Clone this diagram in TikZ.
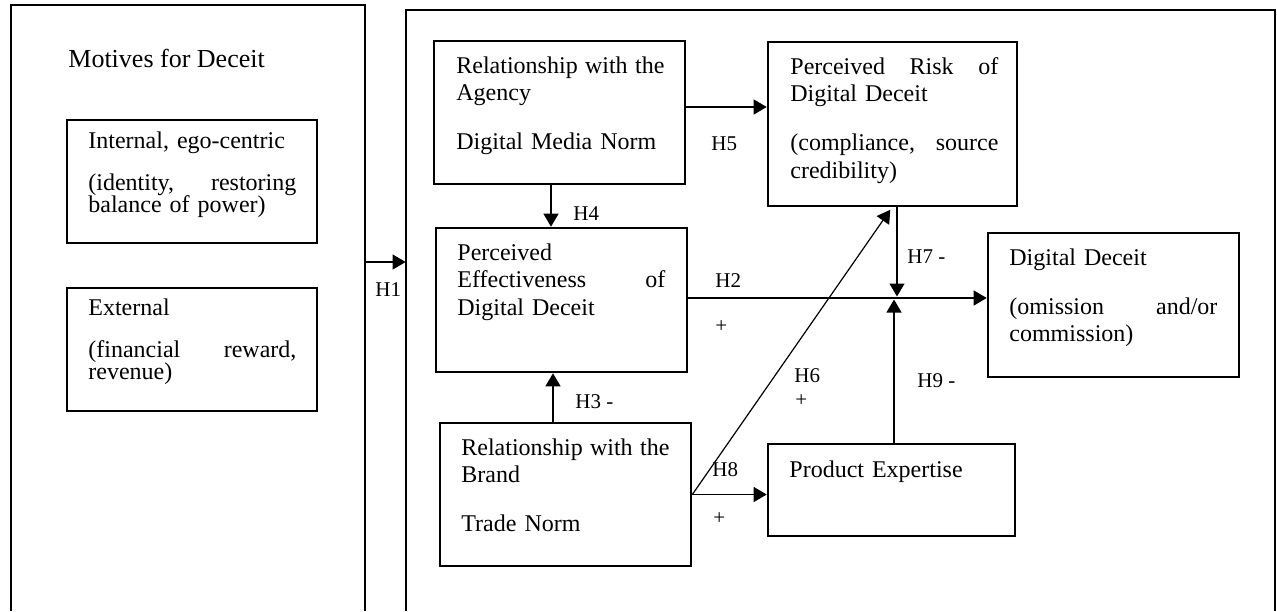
\documentclass[tikz,border=0pt]{standalone}
\usepackage{fontspec}
\setmainfont{Liberation Serif}
\usetikzlibrary{arrows.meta,fit}
\newlength\bw \setlength\bw{104pt}
\newcommand\jline[1]{\makebox[\bw][l]{#1}}
\begin{document}
\begin{tikzpicture}[x=0.5pt,y=-0.5pt,
  box/.style={draw, line width=1.3pt, inner sep=0pt},
  panel/.style={inner sep=0pt},
  txt/.style={anchor=base west, inner sep=0pt, text width=104pt, align=left, font=\fontsize{12}{13.75}\selectfont},
  txtL/.style={anchor=base west, inner sep=0pt, text width=104pt, align=left, font=\fontsize{12}{11.25}\selectfont},
  lbl/.style={anchor=base west, inner sep=0pt, font=\fontsize{10.5}{12}\selectfont},
  arr/.style={line width=0.6pt, -{Triangle[length=6.5pt,width=7.5pt]}},
  edgeline/.style={line width=1pt, line join=miter}
]
\useasboundingbox (0,0) rectangle (1277,611);

% panels
\node[panel, fit={(11,5)(365,611)}] (left) {};
\node[panel, fit={(406,10)(1275,611)}] (right) {};
\draw[edgeline] (left.south west) -- (left.north west) -- (left.north east) -- (left.south east);
\draw[edgeline] (right.south west) -- (right.north west) -- (right.north east) -- (right.south east);

\node[anchor=base west, inner sep=0pt, font=\fontsize{13}{15}\selectfont] (motT) at (68,67) {Motives for Deceit};

% left boxes
\node[box, fit={(67,120)(317,243)}] (internal) {};
\node[txtL] (internalT) at (88,148) {Internal, ego-centric\\[9.75pt]\jline{(identity,\hfill restoring}\\balance of power)};
\node[box, fit={(67,288)(317,411)}] (external) {};
\node[txtL] (externalT) at (88,315) {External\\[9.75pt]\jline{(financial\hfill reward,}\\revenue)};

% right boxes
\node[box, fit={(434,41)(685,184)}] (agency) {};
\node[txt] (agencyT) at (456,73) {\jline{Relationship\hfill with\hfill the}\\Agency\\[10.75pt]Digital Media Norm};

\node[box, fit={(768,42)(1017,206)}] (pr) {};
\node[txt] (prT) at (790,74) {\jline{Perceived\hfill Risk\hfill of}\\Digital Deceit\\[10.75pt]\jline{(compliance,\hfill source}\\credibility)};

\node[box, fit={(436,228)(687,372)}] (eff) {};
\node[txt] (effT) at (457,260) {Perceived\\\jline{Effectiveness\hfill of}\\Digital Deceit};

\node[box, fit={(440,423)(691,566)}] (brand) {};
\node[txt] (brandT) at (461,455) {\jline{Relationship\hfill with\hfill the}\\Brand\\[10.75pt]Trade Norm};

\node[box, fit={(768,444)(1015,536)}] (pe) {};
\node[txt] (peT) at (789,477) {Product Expertise};

\node[box, fit={(988,233)(1239,377)}] (dd) {};
\node[txt] (ddT) at (1009,265) {Digital Deceit\\[10.75pt]\jline{(omission\hfill and/or}\\commission)};

% helper coordinates
\coordinate (yH1) at (0,262);
\coordinate (yH5) at (0,107);
\coordinate (yH2) at (0,298);
\coordinate (xH4) at (551,0);
\coordinate (xH3) at (553,0);
\coordinate (xH7) at (897,0);
\coordinate (xH9) at (894,0);
\coordinate (xH6) at (892,0);
\coordinate (J7) at (897,296.5);
\coordinate (J9) at (894,299.5);

% connectors
\draw[arr] (left.east |- yH1) -- (right.west |- yH1);
\draw[arr] (agency.east |- yH5) -- (pr.west |- yH5);
\draw[arr] (agency.south -| xH4) -- (eff.north -| xH4);
\draw[arr] (brand.north -| xH3) -- (eff.south -| xH3);
\draw[arr] (eff.east |- yH2) -- (dd.west |- yH2);
\draw[arr] (pr.south -| xH7) -- (J7);
\draw[arr] (pe.north -| xH9) -- (J9);
\draw[arr, shorten >=1.5pt] (brand.east) -- (pr.south -| xH6);
\draw[arr] (brand.east) -- (pe.west |- brand.east);

% labels
\node[lbl] (lH1) at (375,296) {H1};
\node[lbl] (lH5) at (711,150) {H5};
\node[lbl] (lH4) at (573,220) {H4};
\node[lbl] (lH2) at (715,287) {H2};
\node[lbl] (lH2s) at (715,332) {+};
\node[lbl] (lH3) at (575,408) {H3 -};
\node[lbl] (lH6) at (794,382) {H6};
\node[lbl] (lH6s) at (795,406) {+};
\node[lbl] (lH8) at (712,476) {H8};
\node[lbl] (lH8s) at (713,524) {+};
\node[lbl] (lH7) at (907,263) {H7 -};
\node[lbl] (lH9) at (917,387) {H9 -};
\end{tikzpicture}
\end{document}
